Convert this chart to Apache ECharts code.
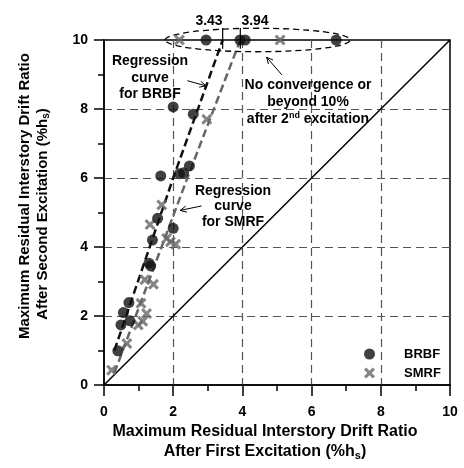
<!DOCTYPE html>
<html><head><meta charset="utf-8">
<script src="https://cdn.jsdelivr.net/npm/echarts@6/dist/echarts.min.js"></script>
<style>html,body{margin:0;padding:0;background:#fff}#c{width:464px;height:468px}</style>
</head><body><div id="c"></div>
<script>
// ---- data ----
const axisTicks = [0, 2, 4, 6, 8, 10];
const brbfPoints = [
  [2.95,10],[3.93,10],[4.08,10],[6.71,10],
  [2.0,8.06],[2.58,7.85],
  [1.64,6.06],[2.18,6.12],[2.3,6.15],[2.47,6.35],
  [1.55,4.83],[2.0,4.54],[1.4,4.2],
  [1.3,3.53],[1.35,3.45],
  [0.72,2.39],[0.56,2.1],[0.75,1.86],[0.49,1.74],
  [0.4,0.99]
];
const smrfPoints = [
  [2.18,10],[5.09,10],
  [2.97,7.70],
  [1.67,5.22],[1.33,4.65],
  [1.81,4.25],[1.92,4.15],[2.07,4.08],
  [1.18,3.05],[1.43,2.92],
  [1.07,2.37],[1.23,2.07],
  [0.99,1.74],[1.12,1.85],
  [0.66,1.2],
  [0.22,0.43]
];
const brbfFit = [[0.3,1.0],[2.0,6.0],[3.43,10]];
const smrfFit = [[0.3,0.35],[2.41,6.0],[3.94,10]];
const equalityLine = [[0,0],[10,10]];
const intercepts = [3.43, 3.94];
const noConvergenceCloud = [[4.44, 10, 2.67, 0.34]];

const FONT = 'Liberation Sans, Arial, sans-serif';
const chart = echarts.init(document.getElementById('c'));

const splitColors = axisTicks.map((t, i) => (i === 0 || i === axisTicks.length - 1) ? 'rgba(0,0,0,0)' : '#555');

function axisCfg(isX) {
  return {
    type: 'value', min: 0, max: 10, interval: 2,
    axisLine: { show: true, onZero: false, lineStyle: { color: '#000', width: 1.5 } },
    axisTick: { show: true, length: isX ? 11 : 10, lineStyle: { color: '#000', width: 1.5 } },
    minorTick: { show: true, splitNumber: 2, length: 6, lineStyle: { color: '#000', width: 1.5 } },
    splitLine: { show: true, lineStyle: { color: splitColors, type: [8, 5], width: 1.2 } },
    axisLabel: { margin: isX ? 20 : 16, fontSize: 14, fontWeight: 'bold', color: '#000', fontFamily: FONT }
  };
}

const xSymbol = 'path://M0,2 L2,0 L5,3 L8,0 L10,2 L7,5 L10,8 L8,10 L5,7 L2,10 L0,8 L3,5 Z';

chart.setOption({
  animation: false,
  backgroundColor: '#fff',
  grid: { left: 104, top: 40, width: 346, height: 345, show: true, borderColor: '#000', borderWidth: 1.5, backgroundColor: 'transparent' },
  xAxis: axisCfg(true),
  yAxis: axisCfg(false),
  legend: {
    orient: 'vertical', left: 359, top: 342, itemWidth: 11, itemHeight: 11, itemGap: 5,
    selectedMode: false,
    textStyle: { fontSize: 13, fontWeight: 'bold', color: '#000', fontFamily: FONT, lineHeight: 14, padding: [0, 0, 0, 24] },
    data: ['BRBF', 'SMRF']
  },
  series: [
    { type: 'line', data: equalityLine, symbol: 'none', lineStyle: { color: '#000', width: 1.5 }, silent: true, z: 2 },
    { type: 'line', data: brbfFit, symbol: 'none', smooth: false, lineStyle: { color: '#111', width: 2.5, type: [8, 4] }, silent: true, z: 3 },
    { type: 'line', data: smrfFit, symbol: 'none', smooth: false, lineStyle: { color: '#666', width: 2.5, type: [8, 4] }, silent: true, z: 3 },
    {
      type: 'custom', silent: true, z: 4, clip: false,
      data: noConvergenceCloud,
      renderItem: function (params, api) {
        const c = api.coord([api.value(0), api.value(1)]);
        const s = api.size([api.value(2), api.value(3)]);
        return { type: 'ellipse', shape: { cx: c[0], cy: c[1], rx: s[0], ry: s[1] },
          style: { fill: null, stroke: '#000', lineWidth: 1.3, lineDash: [6, 4] } };
      }
    },
    { name: 'BRBF', type: 'scatter', data: brbfPoints, symbol: 'circle', symbolSize: 11, clip: false, itemStyle: { color: '#111' }, z: 6 },
    { name: 'SMRF', type: 'scatter', data: smrfPoints, symbol: xSymbol, symbolSize: 11, clip: false, itemStyle: { color: '#666' }, z: 5 }
  ]
});

function px(p) { return chart.convertToPixel({ xAxisIndex: 0, yAxisIndex: 0 }, p); }
function arrow(from, to) {
  const a = px(from), b = px(to);
  const ang = Math.atan2(b[1] - a[1], b[0] - a[0]);
  const L = 7, w = 0.45;
  const p1 = [b[0] - L * Math.cos(ang - w), b[1] - L * Math.sin(ang - w)];
  const p2 = [b[0] - L * Math.cos(ang + w), b[1] - L * Math.sin(ang + w)];
  return [
    { type: 'line', shape: { x1: a[0], y1: a[1], x2: b[0], y2: b[1] }, style: { stroke: '#000', lineWidth: 1 }, z: 20 },
    { type: 'polyline', shape: { points: [p1, b, p2] }, style: { stroke: '#000', lineWidth: 1, fill: null }, z: 20 }
  ];
}
function txt(x, y, text, size, lh, rich, rot) {
  const st = { text: text, fill: '#000', font: 'bold ' + size + 'px ' + FONT, align: 'center', verticalAlign: 'middle', lineHeight: lh };
  if (rich) st.rich = rich;
  return { type: 'text', x: x, y: y, rotation: rot || 0, style: st, z: 20 };
}
const base14 = { fontSize: 14, fontWeight: 'bold', fontFamily: FONT, lineHeight: 17 };
const g = [];
intercepts.forEach(v => {
  const a = px([v, 10.35]), b = px([v, 9.75]);
  g.push({ type: 'line', shape: { x1: a[0], y1: a[1], x2: b[0], y2: b[1] }, style: { stroke: '#000', lineWidth: 1.2 }, z: 20 });
});
g.push(txt(209, 21.5, String(intercepts[0]), 14, 16));
g.push(txt(255, 21, String(intercepts[1]), 14, 16));
g.push(...arrow([5.14, 8.99], [4.70, 9.50]));
g.push(...arrow([2.41, 8.82], [2.95, 8.67]));
g.push(...arrow([2.82, 5.19], [2.20, 5.06]));
g.push(txt(150, 78, 'Regression\ncurve\nfor BRBF', 14, 16.5));
g.push(txt(233, 206.5, 'Regression\ncurve\nfor SMRF', 14, 15.5));
g.push(txt(308, 102, '{b|No convergence or}\n{b|beyond 10%}\n{b|after 2}{sup|nd}{b| excitation}', 14, 17, {
  b: base14,
  sup: { fontSize: 9, fontWeight: 'bold', fontFamily: FONT, lineHeight: 17, padding: [0, 0, 7, 0] }
}));
const t16 = { fontSize: 16, fontWeight: 'bold', fontFamily: FONT, lineHeight: 20 };
const sub16 = { fontSize: 11, fontWeight: 'bold', fontFamily: FONT, lineHeight: 20, padding: [8, 0, 0, 0] };
g.push(txt(265, 431.7, '{t|Maximum Residual Interstory Drift Ratio}', 16, 20, { t: t16 }));
g.push(txt(265, 451.7, '{t|After First Excitation (%h}{s|s}{t|)}', 16, 20, { t: t16, s: sub16 }));
const t15 = { fontSize: 15, fontWeight: 'bold', fontFamily: FONT, lineHeight: 18 };
const sub15 = { fontSize: 10, fontWeight: 'bold', fontFamily: FONT, lineHeight: 18, padding: [7, 0, 0, 0] };
g.push(txt(25, 196, '{t|Maximum Residual Interstory Drift Ratio}', 15, 18, { t: t15 }, Math.PI / 2));
g.push(txt(43, 214, '{t|After Second Excitation (%h}{s|s}{t|)}', 15, 18, { t: t15, s: sub15 }, Math.PI / 2));
chart.setOption({ graphic: g });
</script>
</body></html>
